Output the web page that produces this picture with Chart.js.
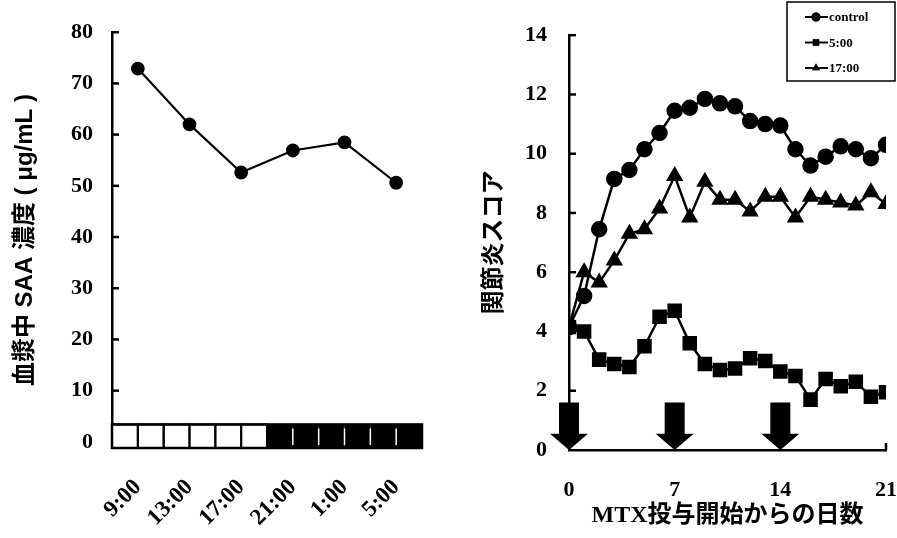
<!DOCTYPE html>
<html>
<head>
<meta charset="utf-8">
<script src="https://cdn.jsdelivr.net/npm/chart.js@4.4.1/dist/chart.umd.min.js"></script>
<style>
    html, body { margin: 0; padding: 0; background: #fff; }
    #wrap { position: relative; width: 897px; height: 538px; overflow: hidden; }
    #left { position: absolute; left: 0; top: 0; width: 460px; height: 538px; }
    #right { position: absolute; left: 470px; top: 0; width: 427px; height: 538px; }
</style>
</head>
<body>
<div id="wrap">
    <div id="left"><canvas id="saaChart"></canvas></div>
    <div id="right"><canvas id="scoreChart"></canvas></div>
</div>
<script>
// left panel: plasma SAA over the day
const saaTimes = ['9:00', '13:00', '17:00', '21:00', '1:00', '5:00'];
const saaValues = [72.9, 62.0, 52.6, 56.9, 58.5, 50.6];
const saaTicks = [0, 10, 20, 30, 40, 50, 60, 70, 80];
// light (1) / dark (0) strip, two cells per sampling time
const lightPhase = [1, 1, 1, 1, 1, 1, 0, 0, 0, 0, 0, 0];

// right panel: arthritis score after start of MTX
const days = [0, 1, 2, 3, 4, 5, 6, 7, 8, 9, 10, 11, 12, 13, 14, 15, 16, 17, 18, 19, 20, 21];
const controlScore = [4.15, 5.2, 7.45, 9.15, 9.45, 10.15, 10.7, 11.45, 11.55, 11.85, 11.7, 11.6, 11.1, 11.0, 10.95, 10.15, 9.6, 9.9, 10.25, 10.15, 9.85, 10.3];
const score500 = [4.15, 4.0, 3.05, 2.9, 2.8, 3.5, 4.5, 4.7, 3.6, 2.9, 2.7, 2.75, 3.1, 3.0, 2.65, 2.5, 1.7, 2.4, 2.15, 2.3, 1.8, 1.95];
const score1700 = [4.15, 6.0, 5.65, 6.4, 7.3, 7.45, 8.15, 9.25, 7.85, 9.05, 8.45, 8.45, 8.05, 8.55, 8.55, 7.85, 8.55, 8.45, 8.35, 8.25, 8.7, 8.3];
const scoreTicks = [0, 2, 4, 6, 8, 10, 12, 14];
const dayTicks = [0, 7, 14, 21];
const mtxDays = [0, 7, 14];

const tickFont = { family: 'Liberation Serif', size: 22, weight: 'bold' };
const titleFont = { family: "'Liberation Serif', 'Noto Sans CJK JP'", size: 24, weight: 'bold' };
const saaTitleFont = { family: "'Liberation Sans', 'Noto Sans CJK JP'", size: 24, weight: 'bold' };

// ticks drawn inward from the y axis
const innerTicks = {
    id: 'innerTicks',
    afterDraw(chart) {
        const ctx = chart.ctx;
        const y = chart.scales.y;
        const left = chart.chartArea.left;
        ctx.save();
        ctx.strokeStyle = '#000';
        ctx.lineWidth = 2.5;
        y.ticks.forEach(t => {
            if (t.value === 0) return;
            const py = y.getPixelForValue(t.value);
            ctx.beginPath();
            ctx.moveTo(left, py);
            ctx.lineTo(left + 7, py);
            ctx.stroke();
        });
        ctx.restore();
    }
};

/* ================= LIGHT / DARK STRIP ================= */
const dayNightStrip = {
    id: 'dayNightStrip',
    afterDraw(chart) {
        const ctx = chart.ctx;
        const x = chart.scales.x;
        const y = chart.scales.y;
        const cellW = (x.getPixelForValue(1) - x.getPixelForValue(0)) / 2;
        const x0 = x.getPixelForValue(0) - cellW;
        const top = y.getPixelForValue(3.4);
        const bottom = y.getPixelForValue(y.min);
        ctx.save();
        lightPhase.forEach((l, i) => {
            ctx.fillStyle = l ? '#fff' : '#000';
            ctx.fillRect(x0 + i * cellW, top, cellW, bottom - top);
        });
        ctx.strokeStyle = '#000';
        ctx.lineWidth = 2;
        lightPhase.forEach((l, i) => {
            if (l) ctx.strokeRect(x0 + i * cellW, top, cellW, bottom - top);
        });
        ctx.strokeStyle = '#fff';
        ctx.lineWidth = 1.5;
        lightPhase.forEach((l, i) => {
            if (!l && i > 0 && !lightPhase[i - 1]) {
                const cx = x0 + i * cellW;
                ctx.beginPath();
                ctx.moveTo(cx, top + 4);
                ctx.lineTo(cx, bottom - 3);
                ctx.stroke();
            }
        });
        ctx.strokeStyle = '#000';
        ctx.lineWidth = 2.5;
        ctx.strokeRect(x0, top, cellW * lightPhase.length, bottom - top);
        ctx.restore();
    }
};

/* ================= MTX ARROWS + LEGEND ================= */
const mtxArrows = {
    id: 'mtxArrows',
    afterDraw(chart) {
        const ctx = chart.ctx;
        const x = chart.scales.x;
        const y = chart.scales.y;
        ctx.save();
        ctx.fillStyle = '#000';
        mtxDays.forEach(d => {
            const cx = x.getPixelForValue(d);
            const yTop = y.getPixelForValue(1.6);
            const yNeck = y.getPixelForValue(0.55);
            const yTip = y.getPixelForValue(0);
            ctx.beginPath();
            ctx.moveTo(cx - 10, yTop);
            ctx.lineTo(cx + 10, yTop);
            ctx.lineTo(cx + 10, yNeck);
            ctx.lineTo(cx + 19, yNeck);
            ctx.lineTo(cx, yTip);
            ctx.lineTo(cx - 19, yNeck);
            ctx.lineTo(cx - 10, yNeck);
            ctx.closePath();
            ctx.fill();
        });
        // little end tick on the x axis
        ctx.strokeStyle = '#000';
        ctx.lineWidth = 2.5;
        ctx.beginPath();
        ctx.moveTo(x.right, y.getPixelForValue(0));
        ctx.lineTo(x.right, y.getPixelForValue(0) - 7);
        ctx.stroke();
        ctx.restore();
    }
};

const boxLegend = {
    id: 'boxLegend',
    afterDraw(chart) {
        const ctx = chart.ctx;
        ctx.save();
        ctx.strokeStyle = '#000';
        ctx.lineWidth = 1.5;
        ctx.strokeRect(317, 2, 108, 79);
        ctx.font = 'bold 13px "Liberation Serif"';
        ctx.textBaseline = 'middle';
        ctx.fillStyle = '#000';
        chart.data.datasets.forEach(ds => {
            const ly = 17 + ds.legendRow * 25.5;
            ctx.lineWidth = 2;
            ctx.beginPath();
            ctx.moveTo(335, ly);
            ctx.lineTo(358, ly);
            ctx.stroke();
            Chart.helpers.drawPoint(ctx, { pointStyle: ds.pointStyle, radius: 4.5, borderWidth: 0 }, 346, ly);
            ctx.fill();
            ctx.fillText(ds.label, 359, ly + 1);
        });
        ctx.restore();
    }
};

document.addEventListener('DOMContentLoaded', function () {

    /* ================= SAA LINE ================= */
    new Chart(document.getElementById('saaChart'), {
        type: 'line',
        data: {
            labels: saaTimes,
            datasets: [{
                data: saaValues,
                borderColor: '#000',
                backgroundColor: '#000',
                borderWidth: 2.2,
                pointRadius: 5.8,
                pointHoverRadius: 5.8,
                tension: 0
            }]
        },
        options: {
            responsive: true,
            maintainAspectRatio: false,
            animation: false,
            layout: { padding: { top: 20, right: 38, left: 0, bottom: 0 } },
            plugins: { legend: { display: false }, tooltip: { enabled: false } },
            scales: {
                x: {
                    type: 'category',
                    offset: true,
                    grid: { display: false, drawTicks: false },
                    border: { display: false },
                    ticks: { font: { family: 'Liberation Serif', size: 23, weight: 'bold' }, color: '#000', minRotation: 45, maxRotation: 45, padding: 26 },
                    afterFit: s => { s.height = 90; s.paddingLeft = 0; s.paddingRight = 0; }
                },
                y: {
                    min: -1.2,
                    max: 80,
                    afterBuildTicks: s => { s.ticks = saaTicks.map(v => ({ value: v })); },
                    grid: { display: false, drawTicks: false },
                    border: { display: true, width: 2.5, color: '#000' },
                    ticks: { font: tickFont, color: '#000', padding: 19 },
                    title: {
                        display: true,
                        text: '血漿中 SAA 濃度 ( μg/mL )',
                        font: saaTitleFont,
                        color: '#000',
                        padding: { top: 11, bottom: 0 }
                    },
                    afterFit: s => { s.width = 112; }
                }
            }
        },
        plugins: [innerTicks, dayNightStrip]
    });

    /* ================= SCORE LINES ================= */
    const toXY = arr => days.map((d, i) => ({ x: d, y: arr[i] }));
    const lineStyle = {
        borderColor: '#000',
        backgroundColor: '#000',
        borderWidth: 2.5,
        tension: 0
    };

    new Chart(document.getElementById('scoreChart'), {
        type: 'line',
        data: {
            datasets: [
                Object.assign({ label: 'control', data: toXY(controlScore), pointStyle: 'circle', pointRadius: 7, legendRow: 0 }, lineStyle),
                Object.assign({ label: '17:00', data: toXY(score1700), pointStyle: 'triangle', pointRadius: 7.5, legendRow: 2 }, lineStyle),
                Object.assign({ label: '5:00', data: toXY(score500), pointStyle: 'rect', pointRadius: 8.5, legendRow: 1 }, lineStyle)
            ]
        },
        options: {
            responsive: true,
            maintainAspectRatio: false,
            animation: false,
            layout: { padding: { top: 30, right: 10, left: 0, bottom: 0 } },
            plugins: { legend: { display: false }, tooltip: { enabled: false } },
            scales: {
                x: {
                    type: 'linear',
                    min: 0,
                    max: 21,
                    afterBuildTicks: s => { s.ticks = dayTicks.map(v => ({ value: v })); },
                    grid: { display: false, drawTicks: false },
                    border: { display: true, width: 2.5, color: '#000' },
                    ticks: { font: tickFont, color: '#000', padding: 27 },
                    title: {
                        display: true,
                        text: 'MTX投与開始からの日数',
                        font: titleFont,
                        color: '#000',
                        padding: { top: 0, bottom: 8 }
                    },
                    afterFit: s => { s.height = 88; s.paddingLeft = 0; s.paddingRight = 0; }
                },
                y: {
                    min: 0,
                    max: 14,
                    afterBuildTicks: s => { s.ticks = scoreTicks.map(v => ({ value: v })); },
                    grid: { display: false, drawTicks: false },
                    border: { display: true, width: 2.5, color: '#000' },
                    ticks: { font: tickFont, color: '#000', padding: 22 },
                    title: {
                        display: true,
                        text: '関節炎スコア',
                        font: titleFont,
                        color: '#000',
                        padding: { top: 10, bottom: 0 }
                    },
                    afterFit: s => { s.width = 99; }
                }
            }
        },
        plugins: [innerTicks, mtxArrows, boxLegend]
    });

});
</script>
</body>
</html>
